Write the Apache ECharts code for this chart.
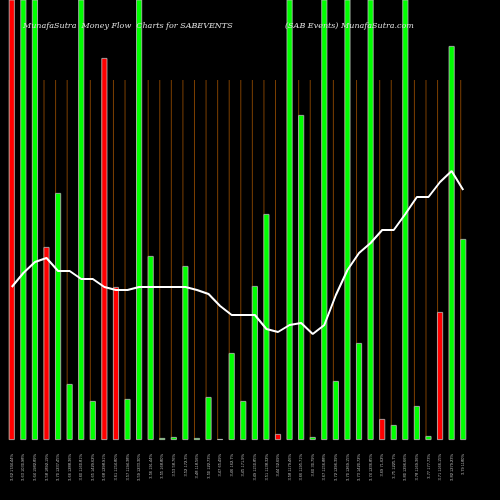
<!DOCTYPE html>
<html>
<head><meta charset="utf-8"></head>
<body style="margin:0;background:#000;width:500px;height:500px;">
<div id="c" style="width:500px;height:500px;"></div>
<script src="https://cdn.jsdelivr.net/npm/echarts@6/dist/echarts.min.js"></script>
<script>
var labels = ['3.62 1744.44%','3.63 1030.98%','3.64 1982.89%','3.58 1892.19%','3.70 1237.45%','3.66 1288.36%','3.60 1160.81%','3.65 1429.62%','3.68 1298.91%','3.61 1154.80%','3.57 1194.38%','3.59 1233.30%','3.56 191.44%','3.55 168.80%','3.53 58.76%','3.52 172.3%','3.48 118.56%','3.50 122.73%','3.47 65.49%','3.46 162.7%','3.45 171.9%','3.49 1150.85%','3.51 1138.32%','3.44 52.69%','3.58 1179.46%','3.66 1195.71%','3.60 30.79%','3.67 1156.88%','3.72 1296.39%','3.70 1269.15%','3.73 1420.72%','3.74 1236.85%','3.69 71.62%','3.75 1225.7%','3.80 1296.66%','3.78 1169.36%','3.77 177.73%','3.71 1166.15%','3.82 1279.23%','3.79 1180%'];
var values = [460,460,460,193,247,56,460,39,382,153,41,460,184,2,3,174,2,43,1,87,39,154,226,6,460,325,3,460,59,460,97,460,21,15,460,34,4,128,394,201];
var isUp = [0,1,1,0,1,1,1,1,0,0,1,1,1,1,1,1,1,1,1,1,1,1,1,0,1,1,1,1,1,1,1,1,0,1,1,1,1,0,1,1];
var flow = [153,167,178,182,169,169,161,161,153,150,150,153,153,153,153,153,150,146,134,125,125,125,111,108,115,117,106,115,145,170,187,197,210,210,226,243,243,258,269,250];
var guide = labels.map(function(){ return 360; });
var chart = echarts.init(document.getElementById('c'));
chart.setOption({
  backgroundColor: '#000',
  animation: false,
  title: [
    {text: 'MunafaSutra  Money Flow  Charts for SABEVENTS', left: 18, top: 17,
     textStyle: {color: '#ddd', fontSize: 8, fontStyle: 'italic', fontWeight: 'normal', fontFamily: 'DejaVu Serif'}},
    {text: '(SAB Events) MunafaSutra.com', left: 280, top: 17,
     textStyle: {color: '#ddd', fontSize: 8, fontStyle: 'italic', fontWeight: 'normal', fontFamily: 'DejaVu Serif'}}
  ],
  grid: {left: 6, right: 31, top: 0, bottom: 60},
  xAxis: {type: 'category', data: labels,
    axisLine: {show: false}, axisTick: {show: false},
    axisLabel: {color: '#bbb', fontSize: 4, rotate: 90, interval: 0, margin: 14}},
  yAxis: [{type: 'value', min: 0, max: 440, show: false},
          {type: 'value', min: 0, max: 440, show: false}],
  series: [
    {type: 'bar', data: guide, barWidth: 1, barGap: '-100%', z: 1,
     itemStyle: {color: '#7a3e00'}, silent: true},
    {type: 'bar', barWidth: 6, z: 2,
     data: values.map(function(v, i){ return {value: v, itemStyle: {color: isUp[i] ? '#00ff00' : '#ff0000'}}; }),
     itemStyle: {borderColor: '#bbb', borderWidth: 0.8}},
    {type: 'line', data: flow, yAxisIndex: 1, symbol: 'none', z: 3,
     lineStyle: {color: '#fff', width: 2}}
  ]
});
</script>
</body>
</html>
